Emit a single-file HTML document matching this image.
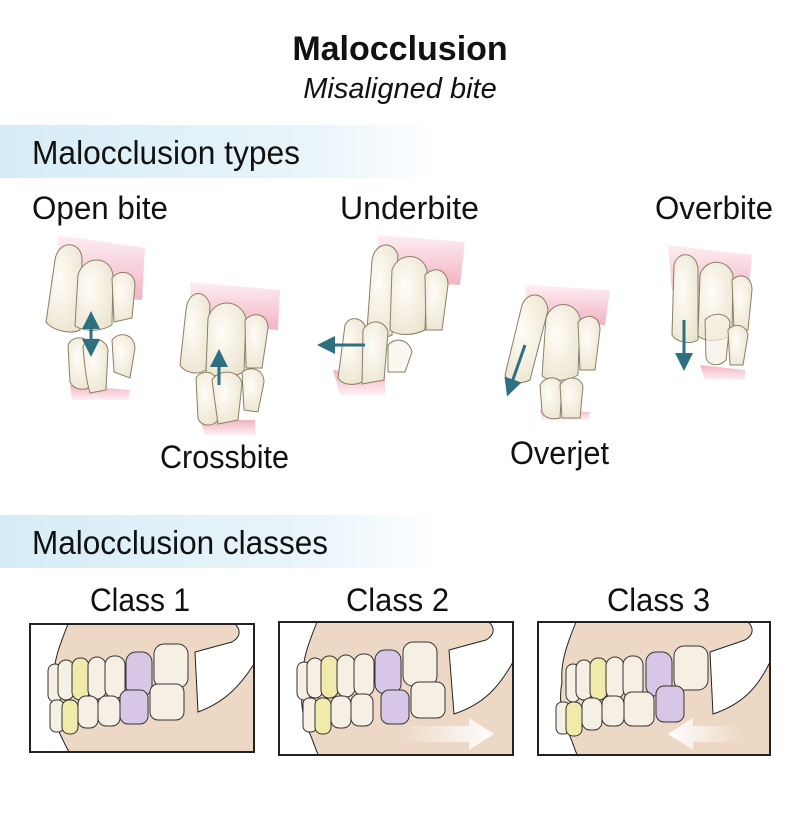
<!DOCTYPE html>
<html><head><meta charset="utf-8"><style>
html,body{margin:0;padding:0;background:#fff;}
body{width:800px;height:831px;overflow:hidden;font-family:"Liberation Sans",sans-serif;}
</style></head><body>
<svg width="800" height="831" viewBox="0 0 800 831" xmlns="http://www.w3.org/2000/svg" font-family="Liberation Sans, sans-serif">
<defs>
<linearGradient id="band" x1="0" x2="1" y1="0" y2="0">
<stop offset="0" stop-color="#d6ecf6"/><stop offset="0.7" stop-color="#e9f5fa"/><stop offset="1" stop-color="#ffffff"/>
</linearGradient>
<linearGradient id="gum" x1="0" y1="0" x2="0" y2="1">
<stop offset="0" stop-color="#fdeef2"/><stop offset="1" stop-color="#f3b3c4"/>
</linearGradient>
<linearGradient id="gumL" x1="0" y1="1" x2="0" y2="0">
<stop offset="0" stop-color="#fdf0f3"/><stop offset="1" stop-color="#f3b3c4"/>
</linearGradient>
<radialGradient id="tooth" cx="0.4" cy="0.4" r="0.7">
<stop offset="0" stop-color="#fffdf8"/><stop offset="1" stop-color="#ebe4cf"/>
</radialGradient>
<linearGradient id="arrR" x1="0" x2="1"><stop offset="0" stop-color="#fff" stop-opacity="0"/><stop offset="1" stop-color="#fff"/></linearGradient>
<linearGradient id="arrL" x1="1" x2="0"><stop offset="0" stop-color="#fff" stop-opacity="0"/><stop offset="1" stop-color="#fff"/></linearGradient>
<marker id="ah" markerWidth="6" markerHeight="6" refX="3" refY="3" orient="auto"><path d="M0,0 L6,3 L0,6Z" fill="#2e6f80"/></marker>
<marker id="ahs" markerWidth="6" markerHeight="6" refX="3" refY="3" orient="auto-start-reverse"><path d="M0,0 L6,3 L0,6Z" fill="#2e6f80"/></marker>
</defs>

<text x="400" y="60" text-anchor="middle" font-size="34" font-weight="bold" fill="#111">Malocclusion</text>
<text x="400" y="98" text-anchor="middle" font-size="29" font-style="italic" fill="#111">Misaligned bite</text>

<rect x="0" y="125" width="440" height="53" fill="url(#band)"/>
<text x="32" y="164" font-size="33" fill="#111" textLength="268" lengthAdjust="spacingAndGlyphs">Malocclusion types</text>
<rect x="0" y="515" width="440" height="53" fill="url(#band)"/>
<text x="32" y="554" font-size="33" fill="#111" textLength="296" lengthAdjust="spacingAndGlyphs">Malocclusion classes</text>

<g font-size="32" fill="#111">
<text x="32" y="219" textLength="136" lengthAdjust="spacingAndGlyphs">Open bite</text>
<text x="340" y="219" textLength="139" lengthAdjust="spacingAndGlyphs">Underbite</text>
<text x="655" y="219" textLength="118" lengthAdjust="spacingAndGlyphs">Overbite</text>
<text x="160" y="468" textLength="129" lengthAdjust="spacingAndGlyphs">Crossbite</text>
<text x="510" y="464" textLength="99" lengthAdjust="spacingAndGlyphs">Overjet</text>
<text x="90" y="611" textLength="100" lengthAdjust="spacingAndGlyphs">Class 1</text>
<text x="346" y="611" textLength="103" lengthAdjust="spacingAndGlyphs">Class 2</text>
<text x="607" y="611" textLength="103" lengthAdjust="spacingAndGlyphs">Class 3</text>
</g>

<g stroke="#8a7f66" stroke-width="1" fill="url(#tooth)">
<!-- Open bite -->
<path d="M58,235 L145,248 L142,300 L60,292Z" fill="url(#gum)" stroke="none"/>
<path d="M70,385 L130,390 L128,400 L72,400Z" fill="url(#gumL)" stroke="none"/>
<path d="M55,260 C58,240 80,240 82,258 L80,330 C70,335 52,330 46,322 Z"/>
<path d="M78,275 C84,255 110,255 113,275 L112,325 C100,332 85,332 75,326 Z"/>
<path d="M112,278 C120,268 135,272 135,285 L132,318 L114,322Z"/>
<path d="M68,345 C72,335 88,336 90,345 L92,385 C86,392 74,390 70,382Z"/>
<path d="M83,346 C90,335 106,338 108,350 L106,390 L90,393 C86,380 84,360 83,346Z"/>
<path d="M112,340 C120,330 135,335 135,348 L130,378 L114,372Z"/>
<!-- Crossbite -->
<path d="M190,282 L280,290 L278,330 L192,320Z" fill="url(#gum)" stroke="none"/>
<path d="M200,420 L255,420 L255,435 L205,435Z" fill="url(#gumL)" stroke="none"/>
<path d="M186,310 C188,290 205,288 210,305 L206,370 C196,376 184,372 180,365Z"/>
<path d="M208,318 C214,298 240,298 246,318 L244,372 C232,378 216,378 206,372Z"/>
<path d="M245,320 C255,310 268,315 268,328 L262,368 L246,368Z"/>
<path d="M196,378 C200,370 215,370 216,380 L218,420 C212,428 200,426 198,418Z"/>
<path d="M212,380 C220,368 240,370 242,384 L238,420 L218,424Z"/>
<path d="M242,372 C252,365 264,370 264,382 L258,412 L244,410Z"/>
<!-- Underbite -->
<path d="M378,235 L465,242 L460,285 L380,280Z" fill="url(#gum)" stroke="none"/>
<path d="M333,370 L385,375 L385,395 L340,395Z" fill="url(#gumL)" stroke="none"/>
<path d="M372,260 C375,242 393,240 398,255 L392,335 C382,340 370,338 367,330Z"/>
<path d="M392,270 C398,252 422,252 427,270 L425,330 C413,336 398,336 390,330Z"/>
<path d="M425,275 C435,265 448,270 448,285 L442,330 L426,330Z"/>
<path d="M345,325 C350,315 362,318 365,326 L362,382 C354,386 342,385 338,378Z"/>
<path d="M363,330 C370,318 385,320 388,332 L384,380 L362,384Z"/>
<path d="M388,345 C398,335 410,342 412,352 L405,372 L388,372Z" fill="#fbf8ef"/>
<!-- Overjet -->
<path d="M525,285 L610,290 L605,325 L528,320Z" fill="url(#gum)" stroke="none"/>
<path d="M540,410 L590,412 L588,420 L542,420Z" fill="url(#gumL)" stroke="none"/>
<path d="M522,305 C528,290 546,292 548,310 L530,380 C520,385 508,383 505,375Z"/>
<path d="M546,318 C552,300 575,300 580,318 L578,375 C566,382 550,382 542,376Z"/>
<path d="M578,322 C588,312 600,316 600,330 L595,370 L580,370Z"/>
<path d="M540,385 C545,375 560,376 562,385 L560,418 C552,420 544,418 542,412Z"/>
<path d="M560,385 C566,375 580,376 583,386 L580,418 L562,418Z"/>
<!-- Overbite -->
<path d="M668,245 L752,255 L748,298 L672,290Z" fill="url(#gum)" stroke="none"/>
<path d="M700,365 L745,370 L745,380 L705,380Z" fill="url(#gumL)" stroke="none"/>
<path d="M674,265 C678,250 696,252 698,268 L698,340 C690,345 676,342 672,335Z"/>
<path d="M700,275 C705,258 728,258 733,275 L732,335 C720,342 705,342 698,336Z"/>
<path d="M732,280 C740,272 752,276 752,290 L748,330 L734,330Z"/>
<path d="M705,320 C712,312 726,312 730,322 L726,360 C718,368 708,365 706,358Z" fill="#f4efe2" fill-opacity="0.7"/>
<path d="M728,330 C735,322 746,325 748,335 L743,365 L730,365Z"/>
</g>
<g stroke="#2e6f80" stroke-width="3" fill="none">
<line x1="91" y1="320" x2="91" y2="348" marker-start="url(#ahs)" marker-end="url(#ah)"/>
<line x1="219" y1="385" x2="219" y2="358" marker-end="url(#ah)"/>
<line x1="365" y1="345" x2="326" y2="345" marker-end="url(#ah)"/>
<line x1="525" y1="345" x2="510" y2="388" marker-end="url(#ah)"/>
<line x1="684" y1="320" x2="684" y2="362" marker-end="url(#ah)"/>
</g>

<!-- Class boxes -->
<g transform="translate(30,624)">
<rect x="0" y="0" width="224" height="128" fill="#ecd8c4"/>
<path d="M0,0 L38,0 C30,20 22,40 24,60 C20,80 25,100 30,110 C35,120 38,128 40,128 L0,128Z" fill="#fff" stroke="#222"/>
<path d="M165,28 L202,18 C212,12 210,5 205,0 L224,0 L224,40 C210,62 195,78 168,88Z" fill="#fff" stroke="#222"/>
<g stroke="#333" stroke-width="1" fill="#f6f0e4">
<rect x="18" y="40" width="14" height="38" rx="7"/><rect x="28" y="36" width="16" height="40" rx="8"/>
<rect x="42" y="34" width="17" height="42" rx="8" fill="#f0ebaa"/><rect x="58" y="33" width="18" height="42" rx="9"/>
<rect x="75" y="32" width="20" height="42" rx="9"/><rect x="96" y="28" width="26" height="44" rx="10" fill="#d8c6e6"/>
<rect x="124" y="20" width="34" height="44" rx="10"/>
<rect x="20" y="76" width="14" height="32" rx="6"/><rect x="32" y="76" width="16" height="34" rx="7" fill="#f0ebaa"/>
<rect x="48" y="72" width="20" height="32" rx="8"/><rect x="68" y="72" width="22" height="30" rx="8"/>
<rect x="90" y="66" width="28" height="34" rx="8" fill="#d8c6e6"/><rect x="120" y="60" width="34" height="36" rx="8"/>
</g>
<rect x="0" y="0" width="224" height="128" fill="none" stroke="#222" stroke-width="2"/>
</g>

<g transform="translate(279,622)">
<rect x="0" y="0" width="234" height="133" fill="#ecd8c4"/>
<path d="M0,0 L38,0 C30,20 22,40 24,60 C20,80 25,100 30,110 C35,120 38,133 40,133 L0,133Z" fill="#fff" stroke="#222"/>
<path d="M170,28 L207,18 C217,12 215,5 210,0 L234,0 L234,40 C220,65 205,82 175,92Z" fill="#fff" stroke="#222"/>
<g stroke="#333" stroke-width="1" fill="#f6f0e4">
<rect x="18" y="40" width="14" height="38" rx="7"/><rect x="28" y="36" width="16" height="40" rx="8"/>
<rect x="42" y="34" width="17" height="42" rx="8" fill="#f0ebaa"/><rect x="58" y="33" width="18" height="42" rx="9"/>
<rect x="75" y="32" width="20" height="42" rx="9"/><rect x="96" y="28" width="26" height="44" rx="10" fill="#d8c6e6"/>
<rect x="124" y="20" width="34" height="44" rx="10"/>
<rect x="24" y="76" width="14" height="34" rx="6"/><rect x="36" y="76" width="16" height="36" rx="7" fill="#f0ebaa"/>
<rect x="52" y="74" width="20" height="32" rx="8"/><rect x="72" y="72" width="22" height="32" rx="8"/>
<rect x="102" y="68" width="28" height="34" rx="8" fill="#d8c6e6"/><rect x="132" y="60" width="34" height="36" rx="8"/>
</g>
<path d="M120,104 L190,104 L190,96 L215,112 L190,128 L190,120 L120,120Z" fill="url(#arrR)"/>
<rect x="0" y="0" width="234" height="133" fill="none" stroke="#222" stroke-width="2"/>
</g>

<g transform="translate(538,622)">
<rect x="0" y="0" width="232" height="133" fill="#ecd8c4"/>
<path d="M0,0 L38,0 C30,20 22,40 24,60 C20,80 25,100 30,110 C35,120 38,133 40,133 L0,133Z" fill="#fff" stroke="#222"/>
<path d="M172,30 L207,18 C217,12 215,5 210,0 L232,0 L232,40 C220,65 205,82 175,92Z" fill="#fff" stroke="#222"/>
<g stroke="#333" stroke-width="1" fill="#f6f0e4">
<rect x="28" y="42" width="14" height="38" rx="7"/><rect x="38" y="38" width="16" height="40" rx="8"/>
<rect x="52" y="36" width="17" height="42" rx="8" fill="#f0ebaa"/><rect x="68" y="35" width="18" height="42" rx="9"/>
<rect x="85" y="34" width="20" height="42" rx="9"/><rect x="108" y="30" width="26" height="44" rx="10" fill="#d8c6e6"/>
<rect x="136" y="24" width="34" height="44" rx="10"/>
<rect x="18" y="80" width="14" height="32" rx="6"/><rect x="28" y="80" width="16" height="34" rx="7" fill="#f0ebaa"/>
<rect x="44" y="76" width="20" height="32" rx="8"/><rect x="64" y="74" width="22" height="30" rx="8"/>
<rect x="86" y="70" width="30" height="34" rx="8"/><rect x="118" y="64" width="28" height="36" rx="8" fill="#d8c6e6"/>
</g>
<path d="M205,104 L155,104 L155,96 L130,112 L155,128 L155,120 L205,120Z" fill="url(#arrL)"/>
<rect x="0" y="0" width="232" height="133" fill="none" stroke="#222" stroke-width="2"/>
</g>
</svg>
</body></html>
